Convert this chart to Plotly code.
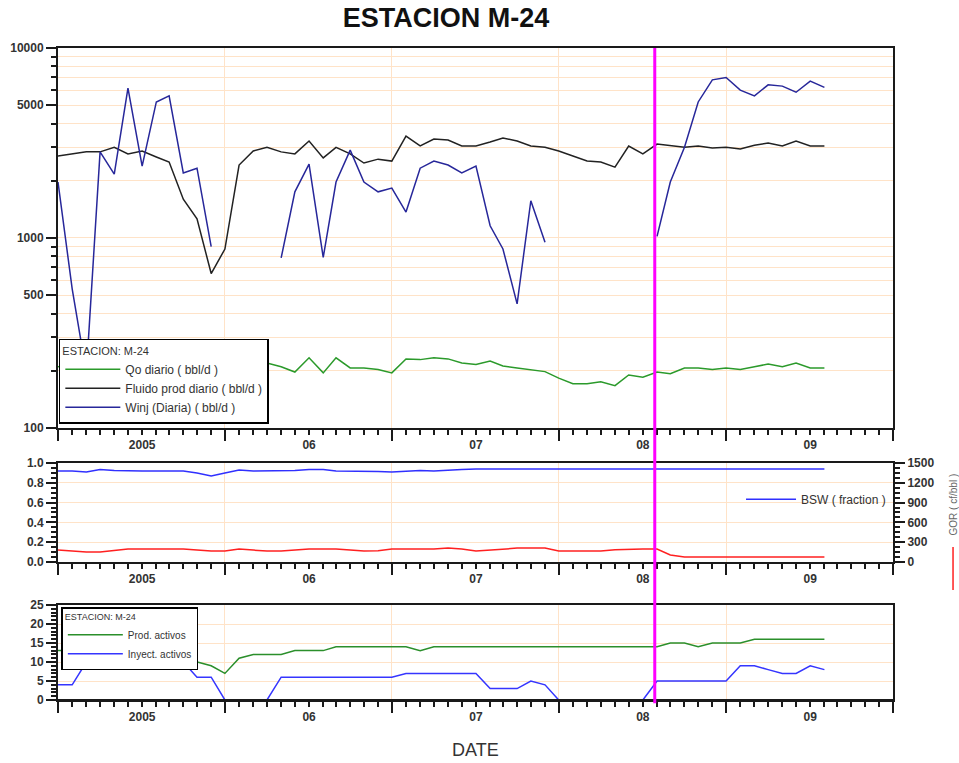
import pandas as pd
import plotly.graph_objects as go

# ---------------- data (monthly, Jul-2004 .. Feb-2009) ----------------
dates = pd.date_range("2004-07-01", periods=56, freq="MS")

winj = [1970, 540, 195, 2840, 2170, 6150, 2390, 5200, 5600, 2200,
        2330, 900, None, None, None, None, 785, 1750, 2450, 790,
        1970, 2900, 1970, 1750, 1830, 1370, 2330, 2540, 2420, 2200,
        2390, 1160, 875, 450, 1570, 950, None, None, None, None,
        None, None, None, 1020, 1970, 3000, 5200, 6800, 7000, 6000,
        5600, 6400, 6300, 5850, 6700, 6200]

fluido = [2700, 2770, 2840, 2840, 3000, 2770, 2870, 2670, 2510, 1600,
          1260, 650, 875, 2420, 2870, 3000, 2840, 2770, 3240, 2640,
          3000, 2770, 2480, 2600, 2540, 3440, 3050, 3320, 3280, 3050,
          3050, 3200, 3360, 3240, 3050, 3000, 2870, 2700, 2540, 2510,
          2360, 3050, 2770, 3120, 3050, 3000, 3050, 2980, 3000, 2940,
          3080, 3160, 3050, 3240, 3050, 3050]

qo = [210, 215, 220, 215, 225, 215, 220, 210, 200, 170,
      150, 130, 140, 190, 215, 220, 210, 197, 234, 195,
      234, 207, 207, 203, 195, 231, 229, 234, 231, 220,
      216, 225, 212, 207, 203, 198, 183, 171, 171, 175,
      167, 190, 185, 197, 193, 207, 207, 203, 207, 203,
      210, 217, 210, 220, 207, 207]

bsw = [0.92, 0.92, 0.91, 0.935, 0.925, 0.92, 0.92, 0.92, 0.92, 0.92,
       0.90, 0.87, 0.90, 0.93, 0.92, 0.92, 0.92, 0.925, 0.935, 0.935,
       0.92, 0.92, 0.92, 0.915, 0.91, 0.92, 0.925, 0.92, 0.93, 0.935,
       0.94, 0.94, 0.94, 0.94, 0.94, 0.94, 0.94, 0.94, 0.94, 0.94,
       0.94, 0.945, 0.94, 0.945, 0.94, 0.94, 0.94, 0.94, 0.94, 0.94,
       0.94, 0.94, 0.94, 0.94, 0.94, 0.94]

gor = [180, 160, 150, 150, 170, 195, 195, 195, 195, 195,
       180, 165, 165, 195, 180, 165, 165, 180, 195, 195,
       195, 180, 165, 170, 195, 195, 195, 195, 210, 195,
       165, 180, 195, 210, 210, 210, 165, 165, 165, 165,
       185, 195, 195, 195, 105, 75, 75, 75, 75, 75,
       75, 75, 75, 75, 75, 75]

prod_activos = [13, 13, 13, 13, 13, 13, 13, 12, 12, 11,
                10, 9, 7, 11, 12, 12, 12, 13, 13, 13,
                14, 14, 14, 14, 14, 14, 13, 14, 14, 14,
                14, 14, 14, 14, 14, 14, 14, 14, 14, 14,
                14, 14, 14, 14, 15, 15, 14, 15, 15, 15,
                16, 16, 16, 16, 16, 16]

inyect_activos = [4, 4, 10, 10, 10, 10, 10, 10, 10, 10,
                  6, 6, 0, 0, 0, 0, 6, 6, 6, 6,
                  6, 6, 6, 6, 6, 7, 7, 7, 7, 7,
                  7, 3, 3, 3, 5, 4, 0, 0, 0, 0,
                  0, 0, 0, 5, 5, 5, 5, 5, 5, 9,
                  9, 8, 7, 7, 9, 8]

year_ticks = ["2005-01-01", "2006-01-01", "2007-01-01", "2008-01-01", "2009-01-01"]
year_labels = ["2005", "06", "07", "08", "09"]
event_date = "2008-01-27"

# ---------------- styling helpers ----------------
FONT = "Liberation Sans"
GRID = "#FFE3C8"
AXC = "#1a1a1a"
tickfont = dict(family=FONT, size=12, color="#333333", weight="bold")

months = pd.date_range("2004-07-01", "2009-07-01", freq="MS")
major_x = [d for d in months if d.month != 7]
major_txt = [year_labels[year_ticks.index(d.strftime("%Y-%m-%d"))]
             if d.strftime("%Y-%m-%d") in year_ticks else "" for d in major_x]
july_x = [d for d in months if d.month == 7]

def xaxis_cfg(anchor):
    return dict(
        type="date", range=["2004-07-01", "2009-07-01"], anchor=anchor,
        tickmode="array", tickvals=major_x, ticktext=major_txt,
        ticks="outside", ticklen=5, tickwidth=1.5, tickcolor=AXC,
        tickfont=tickfont, showgrid=False, zeroline=False,
        showline=True, linecolor=AXC, linewidth=2, mirror=True,
        minor=dict(tickmode="array", tickvals=july_x, ticks="outside",
                   ticklen=11, tickwidth=2, tickcolor=AXC,
                   showgrid=True, gridcolor=GRID, gridwidth=1.3),
        automargin=False,
    )

fig = go.Figure()

# ---------------- top panel ----------------
fig.add_trace(go.Scatter(x=dates, y=qo, mode="lines", name="Qo diario ( bbl/d )",
                         line=dict(color="#2b9a2b", width=1.5), xaxis="x", yaxis="y",
                         legend="legend"))
fig.add_trace(go.Scatter(x=dates, y=fluido, mode="lines", name="Fluido prod diario ( bbl/d )",
                         line=dict(color="#222222", width=1.5), xaxis="x", yaxis="y",
                         legend="legend"))
fig.add_trace(go.Scatter(x=dates, y=winj, mode="lines", name="Winj (Diaria) ( bbl/d )",
                         line=dict(color="#27279a", width=1.5), xaxis="x", yaxis="y",
                         connectgaps=False, legend="legend"))

# ---------------- middle panel ----------------
fig.add_trace(go.Scatter(x=dates, y=bsw, mode="lines", name="BSW ( fraction )",
                         line=dict(color="#3030ff", width=1.5), xaxis="x2", yaxis="y2",
                         legend="legend2"))
fig.add_trace(go.Scatter(x=dates, y=gor, mode="lines", name="GOR ( cf/bbl )",
                         line=dict(color="#ff2020", width=1.5), xaxis="x2", yaxis="y3",
                         showlegend=False))

# ---------------- bottom panel ----------------
fig.add_trace(go.Scatter(x=dates, y=prod_activos, mode="lines", name="Prod. activos",
                         line=dict(color="#2b8f2b", width=1.5), xaxis="x3", yaxis="y4",
                         legend="legend3"))
fig.add_trace(go.Scatter(x=dates, y=inyect_activos, mode="lines", name="Inyect. activos",
                         line=dict(color="#3535ff", width=1.5), xaxis="x3", yaxis="y4",
                         legend="legend3"))

log_major = [100, 500, 1000, 5000, 10000]
log_minor = [v for dec in (100, 1000) for v in [dec * m for m in range(2, 10)] if v not in log_major]

fig.update_layout(
    width=959, height=763,
    margin=dict(l=58, r=66, t=48, b=63),
    paper_bgcolor="white", plot_bgcolor="white",
    font=dict(family=FONT, color="#333333"),
    title=dict(text="ESTACION M-24", x=0.465, xref="container", xanchor="center",
               y=1 - 18 / 763, yref="container", yanchor="middle",
               font=dict(family=FONT, size=27, color="#111111", weight="bold")),
    xaxis=xaxis_cfg("y"),
    xaxis2=xaxis_cfg("y2"),
    xaxis3=xaxis_cfg("y4"),
    yaxis=dict(
        type="log", range=[2, 4], domain=[0.4172, 1.0], anchor="x",
        tickmode="array", tickvals=log_major, ticktext=[str(v) for v in log_major],
        ticks="outside", ticklen=10, tickwidth=1.5, tickcolor=AXC, tickfont=tickfont,
        showgrid=True, gridcolor=GRID, gridwidth=1.3, zeroline=False,
        showline=True, linecolor=AXC, linewidth=2, mirror=True,
        minor=dict(tickmode="array", tickvals=log_minor, ticks="outside", ticklen=5,
                   tickwidth=1.5, tickcolor=AXC, showgrid=True, gridcolor=GRID, gridwidth=1.3),
        automargin=False,
    ),
    yaxis2=dict(
        range=[0, 1.0], domain=[0.2117, 0.3635], anchor="x2",
        tickmode="array", tickvals=[0, 0.2, 0.4, 0.6, 0.8, 1.0],
        ticktext=["0.0", "0.2", "0.4", "0.6", "0.8", "1.0"],
        ticks="outside", ticklen=10, tickwidth=1.5, tickcolor=AXC, tickfont=tickfont,
        showgrid=True, gridcolor=GRID, gridwidth=1.3, zeroline=False,
        showline=True, linecolor=AXC, linewidth=2, mirror=True,
        minor=dict(dtick=0.05, ticks="outside", ticklen=5, tickwidth=1.5, tickcolor=AXC,
                   showgrid=False),
        automargin=False,
    ),
    yaxis3=dict(
        range=[0, 1500], overlaying="y2", side="right", anchor="x2",
        tickmode="array", tickvals=[0, 300, 600, 900, 1200, 1500],
        ticks="outside", ticklen=10, tickwidth=1.5, tickcolor=AXC, tickfont=tickfont,
        showgrid=False, zeroline=False, showline=True, linecolor=AXC, linewidth=2,
        minor=dict(dtick=75, ticks="outside", ticklen=5, tickwidth=1.5, tickcolor=AXC,
                   showgrid=False),
        automargin=False,
    ),
    yaxis4=dict(
        range=[0, 25], domain=[0.0, 0.1457], anchor="x3",
        tickmode="array", tickvals=[0, 5, 10, 15, 20, 25],
        ticks="outside", ticklen=10, tickwidth=1.5, tickcolor=AXC, tickfont=tickfont,
        showgrid=True, gridcolor=GRID, gridwidth=1.3, zeroline=False,
        showline=True, linecolor=AXC, linewidth=2, mirror=True,
        minor=dict(dtick=1, ticks="outside", ticklen=5, tickwidth=1.5, tickcolor=AXC,
                   showgrid=False),
        automargin=False,
    ),
    legend=dict(
        title=dict(text="ESTACION: M-24", font=dict(family=FONT, size=11, color="#333333")),
        x=0.001, y=0.5537, xanchor="left", yanchor="top",
        bgcolor="white", bordercolor="#000000", borderwidth=1.5,
        font=dict(family=FONT, size=12, color="#333333"),
        tracegroupgap=0, itemwidth=55,
    ),
    legend2=dict(
        x=0.818, y=0.308, xanchor="left", yanchor="middle",
        bgcolor="rgba(0,0,0,0)", borderwidth=0,
        font=dict(family=FONT, size=12, color="#333333"), itemwidth=50,
    ),
    legend3=dict(
        title=dict(text="ESTACION: M-24", font=dict(family=FONT, size=9, color="#333333")),
        x=0.004, y=0.1426, xanchor="left", yanchor="top",
        bgcolor="white", bordercolor="#000000", borderwidth=1.5,
        font=dict(family=FONT, size=10, color="#333333"),
        tracegroupgap=0, itemwidth=55,
    ),
    showlegend=True,
)

# redraw bottom axis line over the zero-level segments (as in the original)
fig.add_shape(type="line", xref="x3 domain", yref="y4", x0=0, x1=1, y0=0, y1=0,
              line=dict(color=AXC, width=2), layer="above")

# event marker line across all panels
fig.add_shape(type="line", xref="x", yref="paper", x0=event_date, x1=event_date,
              y0=-0.005, y1=1.0, line=dict(color="#ff00ff", width=3), layer="above")

# rotated GOR legend entry on the right
fig.add_annotation(text="GOR ( cf/bbl )", xref="paper", yref="paper", x=1.0719, y=0.300,
                   textangle=-90, showarrow=False, xanchor="center", yanchor="middle",
                   font=dict(family=FONT, size=10, color="#666666"))
fig.add_shape(type="line", xref="paper", yref="paper", x0=1.0719, x1=1.0719,
              y0=0.1687, y1=0.2347, line=dict(color="#ff2020", width=1.5))

# x-axis title
fig.add_annotation(text="DATE", xref="paper", yref="paper", x=0.5, y=-0.0767,
                   showarrow=False, xanchor="center", yanchor="middle",
                   font=dict(family=FONT, size=18, color="#333333"))

fig.write_html("out.html")
